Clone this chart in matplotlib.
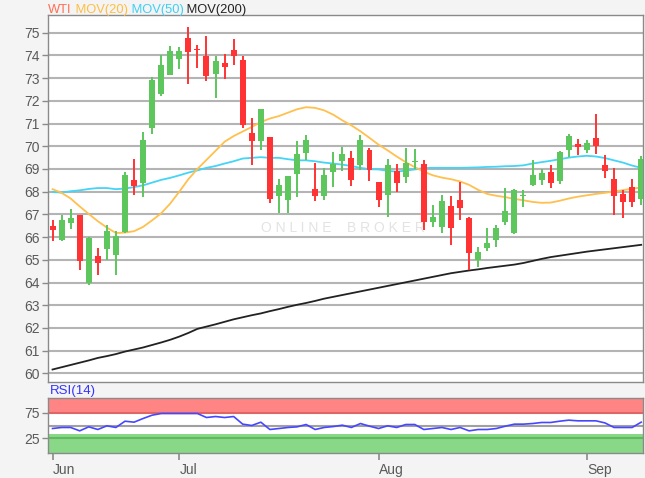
import matplotlib
matplotlib.use("Agg")
import matplotlib.pyplot as plt
import numpy as np

plt.rcParams['font.family'] = ['Liberation Sans', 'DejaVu Sans']

# ---- data ----
opens = [66.50, 65.87, 66.64, 66.96, 63.96, 65.18, 65.47, 65.23, 66.23, 68.50,
         68.40, 70.82, 72.32, 73.15, 73.83, 74.78, 74.30, 73.96, 73.17, 73.68,
         74.22, 73.81, 70.60, 70.22, 70.41, 67.82, 67.62, 68.80, 69.72, 68.11,
         67.82, 68.87, 69.34, 69.48, 69.16, 69.82, 68.43, 67.84, 68.90, 68.66,
         69.30, 69.24, 66.67, 66.45, 67.38, 67.62, 66.85, 64.98, 65.50, 65.87,
         66.67, 66.16, 67.80, 68.28, 68.50, 68.87, 68.46, 69.82, 70.12, 69.82,
         70.37, 69.16, 68.58, 67.88, 68.21, 67.67]
highs = [66.74, 66.96, 67.23, 66.98, 66.00, 65.54, 66.52, 66.26, 68.87, 69.43,
         70.63, 73.05, 74.03, 74.41, 74.37, 75.25, 74.47, 74.85, 73.96, 74.08,
         74.74, 73.97, 71.25, 71.63, 70.41, 68.55, 68.70, 70.22, 70.51, 69.28,
         69.05, 69.75, 69.97, 69.78, 70.48, 69.92, 68.43, 69.43, 69.23, 69.94,
         69.90, 69.38, 67.40, 67.87, 67.82, 68.43, 66.89, 65.57, 66.38, 66.52,
         68.17, 68.13, 68.06, 69.38, 68.99, 69.19, 69.78, 70.56, 70.34, 70.26,
         71.44, 69.63, 69.05, 68.06, 68.58, 69.57]
lows = [65.82, 65.85, 66.35, 64.55, 63.90, 64.35, 64.99, 64.35, 66.16, 67.87,
        67.77, 70.56, 72.21, 73.12, 73.39, 72.76, 73.45, 72.86, 72.13, 72.98,
        73.59, 70.81, 69.16, 69.82, 67.48, 67.04, 67.04, 67.77, 69.38, 67.57,
        67.62, 68.21, 68.90, 68.26, 68.94, 68.46, 67.33, 66.89, 68.00, 68.40,
        69.00, 66.31, 66.45, 66.16, 65.67, 66.74, 64.55, 64.69, 65.38, 65.57,
        66.52, 66.12, 67.33, 68.26, 68.28, 68.17, 68.36, 69.53, 69.60, 69.72,
        69.68, 68.61, 66.99, 66.82, 67.33, 67.43]
closes = [66.31, 66.74, 66.82, 64.94, 65.98, 64.88, 66.26, 66.06, 68.75, 68.26,
          70.26, 72.90, 73.56, 74.18, 74.18, 74.15, 74.25, 73.08, 73.74, 73.50,
          73.97, 70.92, 70.22, 71.63, 67.70, 68.31, 68.70, 69.68, 70.26, 67.82,
          68.72, 69.24, 69.68, 68.50, 70.26, 68.94, 67.62, 69.16, 68.37, 69.27,
          69.34, 66.67, 66.89, 67.58, 66.41, 67.29, 65.28, 65.35, 65.72, 66.41,
          67.14, 68.06, 67.82, 68.72, 68.84, 68.40, 69.75, 70.45, 69.97, 70.16,
          70.01, 68.93, 67.82, 67.55, 67.55, 69.43]

mov20 = [68.11, 67.95, 67.70, 67.35, 67.02, 66.70, 66.42, 66.18, 66.20, 66.26,
         66.45, 66.74, 67.05, 67.48, 68.00, 68.55, 69.00, 69.40, 69.80, 70.20,
         70.45, 70.65, 70.85, 71.07, 71.22, 71.33, 71.48, 71.63, 71.72, 71.69,
         71.58, 71.39, 71.14, 70.92, 70.66, 70.37, 70.07, 69.82, 69.55, 69.30,
         69.08, 68.88, 68.72, 68.62, 68.55, 68.45, 68.30, 68.08, 67.90, 67.82,
         67.76, 67.68, 67.62, 67.55, 67.51, 67.52, 67.60, 67.70, 67.78, 67.84,
         67.90, 67.95, 68.01, 68.07, 68.13, 68.19]
mov50 = [67.99, 67.96, 68.02, 68.06, 68.12, 68.16, 68.16, 68.11, 68.14, 68.20,
         68.28, 68.40, 68.52, 68.61, 68.72, 68.84, 68.94, 69.05, 69.13, 69.24,
         69.34, 69.46, 69.49, 69.52, 69.49, 69.49, 69.43, 69.38, 69.38, 69.34,
         69.28, 69.24, 69.19, 69.13, 69.05, 68.99, 68.98, 68.92, 68.88, 68.93,
         68.98, 69.04, 69.05, 69.05, 69.05, 69.05, 69.06, 69.07, 69.09, 69.10,
         69.12, 69.13, 69.16, 69.24, 69.30, 69.36, 69.43, 69.50, 69.55, 69.58,
         69.55, 69.48, 69.38, 69.28, 69.15, 69.05]
mov200 = [60.17, 60.27, 60.37, 60.47, 60.57, 60.68, 60.76, 60.85, 60.96, 61.05,
          61.14, 61.25, 61.36, 61.48, 61.62, 61.78, 61.96, 62.06, 62.16, 62.27,
          62.38, 62.47, 62.56, 62.64, 62.74, 62.83, 62.93, 63.02, 63.10, 63.19,
          63.29, 63.37, 63.45, 63.53, 63.61, 63.69, 63.77, 63.85, 63.93, 64.01,
          64.09, 64.17, 64.25, 64.33, 64.41, 64.47, 64.53, 64.58, 64.64, 64.69,
          64.74, 64.79, 64.86, 64.95, 65.04, 65.12, 65.18, 65.24, 65.30, 65.36,
          65.41, 65.46, 65.51, 65.56, 65.61, 65.66]
rsi14 = [44.2, 46.2, 46.2, 39.7, 47.4, 42.3, 49.4, 46.2, 58.3, 56.4,
         63.5, 69.9, 73.1, 73.1, 73.1, 73.1, 73.1, 65.4, 67.3, 65.4,
         67.3, 52.6, 50.0, 56.4, 42.3, 44.2, 46.2, 47.4, 51.9, 42.3,
         46.2, 48.0, 50.6, 46.2, 53.8, 48.7, 44.2, 49.4, 46.2, 51.9,
         51.9, 42.3, 44.2, 46.2, 42.3, 46.2, 39.7, 42.3, 42.3, 44.2,
         48.7, 52.6, 52.6, 53.8, 55.8, 55.8, 58.3, 60.3, 59.0, 59.0,
         59.0, 55.0, 46.2, 46.2, 46.2, 56.4]

month_labels = ['Jun', 'Jul', 'Aug', 'Sep']
month_pos = [0, 14, 36, 59]
price_ticks = list(range(60, 76))
rsi_ticks = [25, 75]

# ---- figure ----
W, H = 645, 478
fig = plt.figure(figsize=(W / 100, H / 100), dpi=100, facecolor='#F4F4F4')

def frac(x0, y0, x1, y1):
    return [x0 / W, 1 - y1 / H, (x1 - x0) / W, (y1 - y0) / H]

ax = fig.add_axes(frac(48, 15, 643, 382))
ax2 = fig.add_axes(frac(48, 398, 643, 453))

GREEN = '#5DC65D'
RED = '#FF3333'
tick_col = '#5A5A5A'
spine_col = '#8A8A8A'

x = np.arange(len(opens))
o = np.array(opens); c = np.array(closes)
h = np.array(highs); l = np.array(lows)
up = c >= o
cols = np.where(up, GREEN, RED)

for a in (ax, ax2):
    a.set_facecolor('white')
    for s in a.spines.values():
        s.set_color(spine_col)
        s.set_linewidth(1.0)

# grid
for v in price_ticks:
    ax.axhline(v, color='#B4B4B4', lw=1.5, zorder=1)

# watermark
ax.text(0.495, 0.42, 'O N L I N E    B R O K E R', transform=ax.transAxes,
        ha='center', va='center', fontsize=10, color='#E3E3E3', zorder=1.5)

# MAs
ax.plot(x, mov200, color='#222222', lw=1.3, zorder=2)
ax.plot(x, mov50, color='#44D4F6', lw=1.3, zorder=2)
ax.plot(x, mov20, color='#FFC04D', lw=1.3, zorder=2)

# candles
ax.vlines(x, l, h, colors=cols, lw=1.4, zorder=3)
body_bottom = np.minimum(o, c)
body_h = np.maximum(np.abs(c - o), 0.05)
ax.bar(x, body_h, bottom=body_bottom, width=0.66, color=cols, zorder=4, linewidth=0)

ax.set_xlim(-0.5, 65.2)
ax.set_ylim(59.62, 75.78)
ax.set_yticks(price_ticks)
ax.set_yticklabels([str(v) for v in price_ticks])
ax.set_xticks([])
ax.tick_params(axis='y', length=4, width=1, color=spine_col, labelcolor=tick_col,
               labelsize=10, pad=2)

# legend (text pieces placed one after another)
prev = fig.text(48 / W, 1 - 16 / H, 'WTI', fontsize=9.3, color='#FF6F55',
                va='bottom', ha='left')
for lab, col in [(' MOV(20)', '#FFBE40'), (' MOV(50)', '#3FCFF5'), (' MOV(200)', '#222222')]:
    prev = ax.annotate(lab, xy=(1, 0), xycoords=prev, fontsize=9.3, color=col,
                       va='bottom', ha='left', annotation_clip=False)

# RSI panel
ax2.axhspan(73, 110, color='#FF8585', zorder=1, lw=0)
ax2.axhspan(-10, 34.5, color='#88D888', zorder=1, lw=0)
ax2.axhline(75, color='#E06565', lw=1.5, zorder=2)
ax2.axhline(25, color='#60B860', lw=1.5, zorder=2)
ax2.axhline(50, color='#A0A0A0', lw=1.5, zorder=2)
ax2.plot(x, rsi14, color='#4747FF', lw=1.2, zorder=3)
ax2.set_xlim(-0.5, 65.2)
ax2.set_ylim(-3, 103)
ax2.set_yticks(rsi_ticks)
ax2.set_yticklabels([str(v) for v in rsi_ticks])
ax2.set_xticks(month_pos)
ax2.set_xticklabels(month_labels, ha='left')
ax2.tick_params(axis='y', length=4, width=1, color=spine_col, labelcolor=tick_col,
                labelsize=10, pad=2)
ax2.tick_params(axis='x', length=5, width=1.2, color=spine_col, labelcolor=tick_col,
                labelsize=10, pad=2)
fig.text(50 / W, 1 - 391 / H, 'RSI(14)', color='#3333FF', fontsize=9.5,
         va='center', ha='left')

fig.savefig('out.png', dpi=100, facecolor=fig.get_facecolor())
